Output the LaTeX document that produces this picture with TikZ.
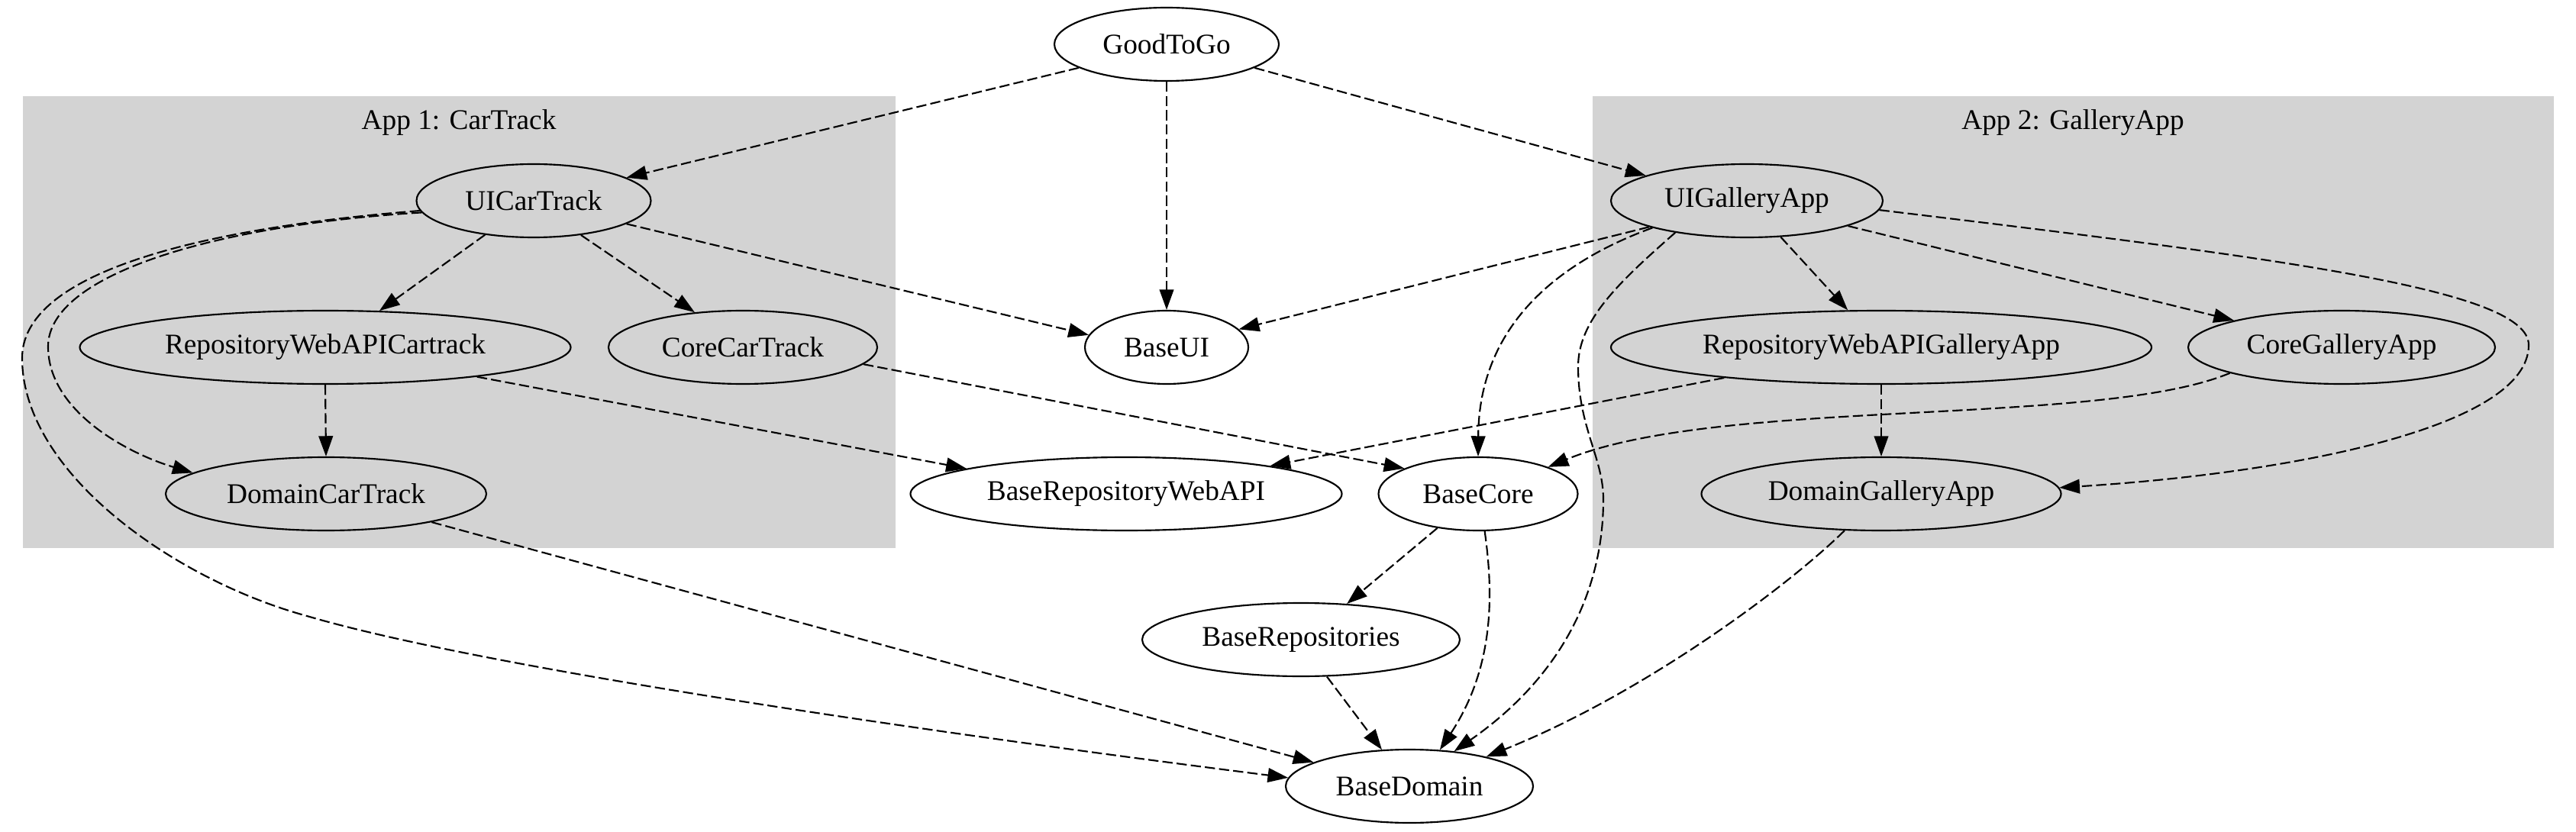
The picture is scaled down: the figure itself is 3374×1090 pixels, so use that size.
\documentclass[tikz,border=0pt]{standalone}
\usepackage{fontspec}
\setmainfont{Liberation Serif}
\usetikzlibrary{shapes.geometric,arrows.meta}
\definecolor{clustergray}{HTML}{D3D3D3}

\begin{document}
\begin{tikzpicture}[
    x=0.375pt, y=-0.375pt,
    module/.style={ellipse, draw, line width=0.8pt, inner sep=0pt, minimum height=36pt, minimum width=#1*0.375pt, font=\fontsize{14}{16}\selectfont},
    cluster/.style={fill=clustergray, draw=clustergray},
    clusterlabel/.style={font=\fontsize{14}{16}\selectfont},
    dep/.style={draw, line width=0.8pt, dash pattern=on 5pt off 2pt, -{Triangle[length=10pt, width=7pt]}},
    every edge/.style={dep}
]

\fill[white] (0,0) rectangle (3374,1090);

% Clusters
\fill[cluster] (31,127) rectangle (1172,717);
\node[clusterlabel] (CarTrackLabel) at (601,161) {App 1: CarTrack};
\fill[cluster] (2087,127) rectangle (3344,717);
\node[clusterlabel] (GalleryAppLabel) at (2715,161) {App 2: GalleryApp};

\node[module=294] (GoodToGo) at (1528,58) {GoodToGo};

\node[module=307] (UICarTrack) at (699,263) {UICarTrack};
\node[module=643] (RepoCarTrack) at (426,455) {RepositoryWebAPICartrack};
\node[module=352] (CoreCarTrack) at (973,455) {CoreCarTrack};
\node[module=420] (DomainCarTrack) at (427,647) {DomainCarTrack};

\node[module=214] (BaseUI) at (1528,455) {BaseUI};
\node[module=565] (BaseRepoWebAPI) at (1475,647) {BaseRepositoryWebAPI};
\node[module=261] (BaseCore) at (1936,647) {BaseCore};
\node[module=416] (BaseRepositories) at (1704,838) {BaseRepositories};
\node[module=324] (BaseDomain) at (1846,1030) {BaseDomain};

\node[module=356] (UIGalleryApp) at (2288,263) {UIGalleryApp};
\node[module=708] (RepoGalleryApp) at (2464,455) {RepositoryWebAPIGalleryApp};
\node[module=402] (CoreGalleryApp) at (3067,455) {CoreGalleryApp};
\node[module=471] (DomainGalleryApp) at (2464,647) {DomainGalleryApp};

% Connections
\foreach \s/\t in {GoodToGo.195/UICarTrack.14, GoodToGo.south/BaseUI.north,
    GoodToGo.-15/UIGalleryApp.166,
    UICarTrack.-145/RepoCarTrack.34, UICarTrack.-36/CoreCarTrack.144,
    UICarTrack.-14/BaseUI.171,
    RepoCarTrack.south/DomainCarTrack.north, RepoCarTrack.-11/BaseRepoWebAPI.171,
    CoreCarTrack.-8/BaseCore.161, DomainCarTrack.-15/BaseDomain.166,
    UIGalleryApp.195/BaseUI.14, UIGalleryApp.-47/RepoGalleryApp.132,
    UIGalleryApp.-14/CoreGalleryApp.166,
    RepoGalleryApp.191/BaseRepoWebAPI.11, RepoGalleryApp.south/DomainGalleryApp.north,
    BaseCore.220/BaseRepositories.38, BaseRepositories.-55/BaseDomain.127}
    \path (\s) edge (\t);

\draw[dep] (UICarTrack.186) .. controls (280,295) and (63,360) .. (63,454)
    .. controls (63,540) and (170,595) .. (DomainCarTrack.171);
\draw[dep] (UICarTrack.185) .. controls (250,300) and (29,360) .. (29,469)
    .. controls (29,620) and (230,760) .. (402,807)
    .. controls (650,880) and (1300,970) .. (BaseDomain.176);

\draw[dep] (UIGalleryApp.196) .. controls (2050,340) and (1937,420) .. (BaseCore.north);
\draw[dep] (UIGalleryApp.204) .. controls (2120,370) and (2067,420) .. (2067,480)
    .. controls (2067,560) and (2100,600) .. (2100,654)
    .. controls (2100,780) and (2040,890) .. (BaseDomain.38);
\draw[dep] (UIGalleryApp.-4) .. controls (3000,340) and (3312,380) .. (3312,452)
    .. controls (3312,560) and (3000,620) .. (DomainGalleryApp.2);
\draw[dep] (CoreGalleryApp.193) .. controls (2750,560) and (2250,520) .. (BaseCore.21);
\draw[dep] (DomainGalleryApp.225) .. controls (2340,770) and (2150,910) .. (BaseDomain.21);
\draw[dep] (BaseCore.-80) .. controls (1955,770) and (1960,870) .. (BaseDomain.50);

\end{tikzpicture}
\end{document}
